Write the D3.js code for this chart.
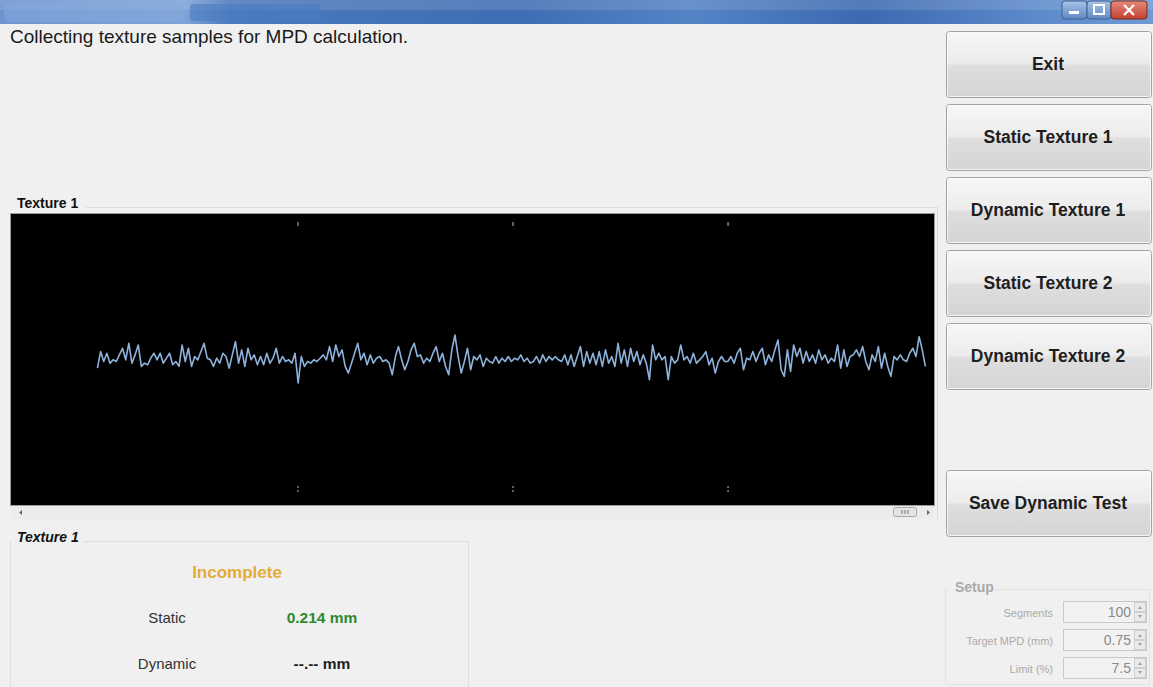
<!DOCTYPE html>
<html><head><meta charset="utf-8">
<script src="https://cdn.jsdelivr.net/npm/d3@7"></script>
<style>
html,body{margin:0;padding:0;background:#f0f0f0;overflow:hidden;}
svg{display:block;font-family:"Liberation Sans",Arial,sans-serif;}
</style></head>
<body>
<svg id="c" width="1153" height="687"></svg>
<script>
// ---------- data ----------
const statusMessage = "Collecting texture samples for MPD calculation.";
const buttonLabels = ["Exit","Static Texture 1","Dynamic Texture 1","Static Texture 2","Dynamic Texture 2"];
const saveButtonLabel = "Save Dynamic Test";
const chartTitle = "Texture 1";
const resultTitle = "Texture 1";
const resultStatus = "Incomplete";
const resultLabels = ["Static","Dynamic"];
const resultValues = ["0.214 mm","--.-- mm"];
const setupLabels = ["Segments","Target MPD (mm)","Limit (%)"];
const setupValues = ["100","0.75","7.5"];
const xTickValues = [25,50,75];
const xDomain = [-8.3, 99];
const yDomain = [-440, 440];
const profileStart = 1.75, profileEnd = 98.0;
// texture profile (deflection)
const textureProfile = [
-26,24,-6,19,-11,-1,-6,14,34,-1,49,-11,14,44,-21,-11,-16,4,19,-1,19,-11,4,19,-16,-6,-21,44,-6,34,-21,9,-1,24,49,4,-1,-21,4,-11,19,9,-26,14,54,-11,29,-21,34,-1,14,-16,9,-16,19,-11,4,34,-11,9,-6,-1,-11,19,-71,
9,-21,-6,-11,-1,-6,4,14,-1,39,-6,44,9,29,-21,-41,-11,19,49,-1,19,-16,14,-11,4,9,-6,-1,-11,-46,9,39,-1,-31,-6,29,49,9,14,-11,4,-6,19,39,-6,19,-21,-46,29,74,9,-41,-6,34,-31,9,-1,14,-21,4,-6,-11,9,-11,4,-6,9,-6,4,
-1,14,-6,4,-11,-6,9,-11,14,-6,9,-1,9,-1,-6,14,-16,14,-21,9,39,-21,24,-11,19,-16,24,-21,29,-11,9,-21,49,-11,29,-21,34,-6,24,-16,14,-11,-61,44,-1,19,-1,9,-61,9,-11,-1,44,-1,9,-11,19,-11,-1,9,24,-16,4,-41,-6,9,-6,
-6,9,-11,19,34,-31,4,-1,24,-6,19,34,-16,14,-6,29,59,-31,-51,29,-36,44,9,34,-11,24,-6,14,-11,29,-1,14,-11,4,-6,44,-26,29,-21,9,14,29,9,39,-6,-31,14,-6,39,-26,19,-21,-51,9,-1,14,-1,-6,19,34,9,69,29,-21
];

// ---------- drawing ----------
const svg = d3.select("#c");
const defs = svg.append("defs");
const FONT = "'Liberation Sans',Arial,sans-serif";

// title bar
const tg = defs.append("linearGradient").attr("id","tb").attr("x1","0").attr("x2","1").attr("y1","0").attr("y2","0");
[["0","#6b94cf"],["0.16","#7ea3d8"],["0.2","#4b79bd"],["0.45","#3f6db3"],["0.6","#5483c6"],["0.75","#3c69b0"],["0.9","#5d8acb"],["1","#6f9ad3"]]
  .forEach(s=>tg.append("stop").attr("offset",s[0]).attr("stop-color",s[1]));
svg.append("rect").attr("x",0).attr("y",0).attr("width",1153).attr("height",24).attr("fill","url(#tb)");
svg.append("rect").attr("x",0).attr("y",0).attr("width",1153).attr("height",10).attr("fill","#ffffff").attr("opacity",0.12);
svg.append("rect").attr("x",4).attr("y",3).attr("width",180).attr("height",19).attr("rx",6).attr("fill","#86aade").attr("opacity",0.5);
svg.append("rect").attr("x",190).attr("y",4).attr("width",130).attr("height",17).attr("rx",3).attr("fill","#4b7bc0").attr("opacity",0.6);
// window controls
const wb = defs.append("linearGradient").attr("id","wb").attr("x1","0").attr("x2","0").attr("y1","0").attr("y2","1");
wb.append("stop").attr("offset","0").attr("stop-color","#a9c3e6");
wb.append("stop").attr("offset","1").attr("stop-color","#5f88c4");
const cb = defs.append("linearGradient").attr("id","cb").attr("x1","0").attr("x2","0").attr("y1","0").attr("y2","1");
cb.append("stop").attr("offset","0").attr("stop-color","#e58a7c");
cb.append("stop").attr("offset","1").attr("stop-color","#c3402f");
svg.append("rect").attr("x",1062).attr("y",1).attr("width",25).attr("height",18).attr("rx",3).attr("fill","url(#wb)").attr("stroke","#3d5f93");
svg.append("rect").attr("x",1087).attr("y",1).attr("width",24).attr("height",18).attr("rx",3).attr("fill","url(#wb)").attr("stroke","#3d5f93");
svg.append("rect").attr("x",1111).attr("y",1).attr("width",36).attr("height",18).attr("rx",3).attr("fill","url(#cb)").attr("stroke","#7d2a22");
svg.append("rect").attr("x",1069).attr("y",11).attr("width",10).attr("height",3).attr("fill","#fff");
svg.append("rect").attr("x",1094).attr("y",5).attr("width",10).attr("height",9).attr("fill","none").attr("stroke","#fff").attr("stroke-width",2);
svg.append("path").attr("d","M1124,5 L1134,15 M1134,5 L1124,15").attr("stroke","#fff").attr("stroke-width",2.2);

// status text
svg.append("text").attr("x",10).attr("y",43).attr("font-size",19).attr("fill","#1a1a1a").attr("font-family",FONT).text(statusMessage);

// buttons
const bg = defs.append("linearGradient").attr("id","btn").attr("x1","0").attr("x2","0").attr("y1","0").attr("y2","1");
[["0","#f7f7f7"],["0.48","#ececec"],["0.52","#dedede"],["1","#d4d4d4"]].forEach(s=>bg.append("stop").attr("offset",s[0]).attr("stop-color",s[1]));
function button(y, h, label){
  const g = svg.append("g");
  g.append("rect").attr("x",946.5).attr("y",y+0.5).attr("width",205).attr("height",h).attr("rx",3)
    .attr("fill","url(#btn)").attr("stroke","#a2a2a2");
  g.append("rect").attr("x",947.5).attr("y",y+1.5).attr("width",203).attr("height",h-2).attr("rx",2)
    .attr("fill","none").attr("stroke","#fbfbfb").attr("opacity",0.8);
  g.append("text").attr("x",1048).attr("y",y+h/2+6).attr("text-anchor","middle").attr("font-size",17.5)
    .attr("font-weight","bold").attr("fill","#1e1e1e").attr("font-family",FONT).text(label);
}
const btnY = d3.scaleLinear().domain([0,1]).range([31,104]);
buttonLabels.forEach((l,i)=>button(btnY(i),66,l));
button(470,66,saveButtonLabel);

// chart group box
svg.append("path").attr("d","M86,207.5 H937.5 V519").attr("fill","none").attr("stroke","#dcdcdc");
svg.append("text").attr("x",17).attr("y",208).attr("font-size",14).attr("font-weight","bold").attr("fill","#111").attr("font-family",FONT).text(chartTitle);

const plot = {x0:11, x1:934, y0:214, y1:505};
svg.append("rect").attr("x",plot.x0-1).attr("y",plot.y0-1).attr("width",plot.x1-plot.x0+2).attr("height",plot.y1-plot.y0+2).attr("fill","#9a9a9a");
svg.append("rect").attr("x",plot.x0).attr("y",plot.y0).attr("width",plot.x1-plot.x0).attr("height",plot.y1-plot.y0).attr("fill","#000");

const x = d3.scaleLinear().domain(xDomain).range([plot.x0, plot.x1]);
const y = d3.scaleLinear().domain(yDomain).range([plot.y1, plot.y0]);

// tick marks (top and bottom)
const topAxis = d3.axisBottom(x).tickValues(xTickValues).tickSize(4).tickFormat("");
const ta = svg.append("g").attr("transform",`translate(0,${plot.y0+8})`).call(topAxis);
ta.select(".domain").remove();
ta.selectAll(".tick line").attr("stroke","#8a8a8a").attr("stroke-width",1.4);
const botAxis = d3.axisBottom(x).tickValues(xTickValues).tickSize(8).tickFormat("");
const ba = svg.append("g").attr("transform",`translate(0,${plot.y1-19})`).call(botAxis);
ba.select(".domain").remove();
ba.selectAll(".tick line").attr("stroke","#8a8a8a").attr("stroke-width",1.4).attr("stroke-dasharray","2,2");

// profile line
const step = (profileEnd-profileStart)/(textureProfile.length-1);
const line = d3.line().x((d,i)=>x(profileStart+i*step)).y(d=>y(d));
svg.append("path").datum(textureProfile).attr("d",line).attr("fill","none")
  .attr("stroke","#8db3dc").attr("stroke-width",1.6).attr("stroke-linejoin","round");

// scrollbar
svg.append("rect").attr("x",plot.x0).attr("y",506).attr("width",plot.x1-plot.x0).attr("height",13).attr("fill","#ececec");
svg.append("path").attr("d","M19,512.5 L22,510 L22,515 Z").attr("fill","#666");
svg.append("path").attr("d","M927,510 L930,512.5 L927,515 Z").attr("fill","#666");
svg.append("rect").attr("x",893.5).attr("y",507.5).attr("width",23).attr("height",9).attr("rx",2).attr("fill","#e4e4e4").attr("stroke","#a8a8a8");
svg.append("path").attr("d","M902,510 V514 M905,510 V514 M908,510 V514").attr("stroke","#777");

// result group
svg.append("path").attr("d","M84,541.5 H468.5 V687").attr("fill","none").attr("stroke","#dedede");
svg.append("path").attr("d","M10.5,541 V687").attr("fill","none").attr("stroke","#dedede");
svg.append("text").attr("x",17).attr("y",542).attr("font-size",14).attr("font-weight","bold").attr("font-style","italic")
  .attr("fill","#111").attr("font-family",FONT).text(resultTitle);
svg.append("text").attr("x",237).attr("y",578).attr("text-anchor","middle").attr("font-size",17).attr("font-weight","bold")
  .attr("fill","#e3ac36").attr("font-family",FONT).text(resultStatus);
const rowY = d3.scaleLinear().domain([0,1]).range([623,669]);
resultLabels.forEach((l,i)=>{
  svg.append("text").attr("x",167).attr("y",rowY(i)).attr("text-anchor","middle").attr("font-size",15)
    .attr("fill","#333").attr("font-family",FONT).text(l);
  svg.append("text").attr("x",322).attr("y",rowY(i)).attr("text-anchor","middle").attr("font-size",15.5).attr("font-weight","bold")
    .attr("fill", i===0 ? "#2f8a2f" : "#1e1e1e").attr("font-family",FONT).text(resultValues[i]);
});

// setup group
svg.append("path").attr("d","M995,589.5 H1149.5 V684.5 H945.5 V589.5 H948").attr("fill","none").attr("stroke","#e2e2e2");
svg.append("text").attr("x",955).attr("y",592).attr("font-size",14).attr("font-weight","bold").attr("fill","#a9a9a9").attr("font-family",FONT).text("Setup");
const setY = d3.scaleLinear().domain([0,1]).range([601,629]);
setupLabels.forEach((l,i)=>{
  const yy = setY(i);
  svg.append("text").attr("x",1053).attr("y",yy+16).attr("text-anchor","end").attr("font-size",11)
    .attr("fill","#ababab").attr("font-family",FONT).text(l);
  svg.append("rect").attr("x",1063.5).attr("y",yy+0.5).attr("width",83).attr("height",21).attr("fill","#f2f2f2").attr("stroke","#c9c9c9");
  svg.append("text").attr("x",1131).attr("y",yy+16).attr("text-anchor","end").attr("font-size",14)
    .attr("fill","#8a8a8a").attr("font-family",FONT).text(setupValues[i]);
  svg.append("rect").attr("x",1134.5).attr("y",yy+1.5).attr("width",11).attr("height",9).attr("fill","#ebebeb").attr("stroke","#d0d0d0");
  svg.append("rect").attr("x",1134.5).attr("y",yy+11.5).attr("width",11).attr("height",9).attr("fill","#ebebeb").attr("stroke","#d0d0d0");
  svg.append("path").attr("d",`M1138,${yy+8} L1140,${yy+5} L1142,${yy+8} Z M1138,${yy+14} L1140,${yy+17} L1142,${yy+14} Z`).attr("fill","#a0a0a0");
});
</script>
</body></html>
